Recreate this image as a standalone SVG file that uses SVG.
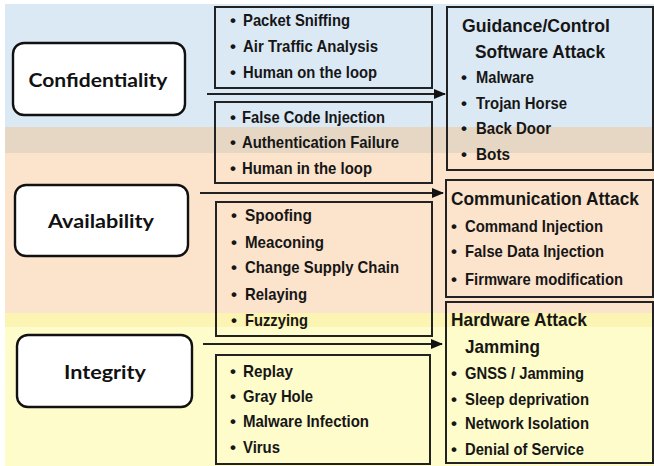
<svg xmlns="http://www.w3.org/2000/svg" width="654" height="466" viewBox="0 0 654 466">
<style>
.lbl{font-family:Lato,"Open Sans","Liberation Sans",sans-serif;font-weight:bold;font-size:19px;fill:#111;text-anchor:middle}
.it{font-family:"Liberation Sans Narrow","Liberation Sans",Arial,sans-serif;font-weight:bold;font-size:17px;fill:#161616}
.hd{font-family:"Liberation Sans Narrow","Liberation Sans",Arial,sans-serif;font-weight:bold;font-size:19px;fill:#161616}
.pill{fill:#fff;stroke:#111;stroke-width:2.4}
.box{fill:none;stroke:#222;stroke-width:2}
.con{stroke:#222;stroke-width:1.8;fill:none;marker-end:url(#ah)}
</style>
<defs>
<marker id="ah" markerWidth="12" markerHeight="10" refX="11" refY="5" orient="auto" markerUnits="userSpaceOnUse">
<path d="M0,0 L12,5 L0,10 Z" fill="#111"/>
</marker>
</defs>
<rect x="0" y="0" width="654" height="466" fill="#fff"/>
<rect x="5" y="4" width="649" height="123" fill="#dbe9f5"/>
<rect x="5" y="127" width="649" height="26" fill="#e6d6c4"/>
<rect x="5" y="153" width="649" height="160" fill="#fce3cc"/>
<rect x="5" y="313" width="649" height="14" fill="#fcf4b2"/>
<rect x="5" y="327" width="649" height="139" fill="#fefccb"/>

<g id="confidentiality">
<rect class="pill" x="13" y="43" width="172" height="72" rx="11"/>
<text class="lbl" x="98" y="87" textLength="139" lengthAdjust="spacingAndGlyphs">Confidentiality</text>
</g>
<g id="availability">
<rect class="pill" x="15" y="185" width="173" height="71" rx="11"/>
<text class="lbl" x="101" y="228" textLength="106" lengthAdjust="spacingAndGlyphs">Availability</text>
</g>
<g id="integrity">
<rect class="pill" x="17" y="335" width="175" height="72" rx="11"/>
<text class="lbl" x="105" y="379" textLength="82" lengthAdjust="spacingAndGlyphs">Integrity</text>
</g>

<g id="list-conf-1">
<rect class="box" x="215" y="7" width="217" height="81"/>
<text class="it"><tspan x="230" y="26">•</tspan><tspan x="243" y="26" textLength="107" lengthAdjust="spacingAndGlyphs">Packet Sniffing</tspan></text>
<text class="it"><tspan x="230" y="52">•</tspan><tspan x="243" y="52" textLength="135" lengthAdjust="spacingAndGlyphs">Air Traffic Analysis</tspan></text>
<text class="it"><tspan x="230" y="78">•</tspan><tspan x="243" y="78" textLength="134" lengthAdjust="spacingAndGlyphs">Human on the loop</tspan></text>
</g>
<g id="list-conf-2">
<rect class="box" x="215" y="102" width="217" height="81"/>
<text class="it"><tspan x="230" y="123">•</tspan><tspan x="242" y="123" textLength="143" lengthAdjust="spacingAndGlyphs">False Code Injection</tspan></text>
<text class="it"><tspan x="230" y="148">•</tspan><tspan x="242" y="148" textLength="157" lengthAdjust="spacingAndGlyphs">Authentication Failure</tspan></text>
<text class="it"><tspan x="230" y="174">•</tspan><tspan x="242" y="174" textLength="130" lengthAdjust="spacingAndGlyphs">Human in the loop</tspan></text>
</g>
<g id="list-avail">
<rect class="box" x="216" y="202" width="216" height="134"/>
<text class="it"><tspan x="231" y="221">•</tspan><tspan x="245" y="221" textLength="67" lengthAdjust="spacingAndGlyphs">Spoofing</tspan></text>
<text class="it"><tspan x="231" y="248">•</tspan><tspan x="245" y="248" textLength="79" lengthAdjust="spacingAndGlyphs">Meaconing</tspan></text>
<text class="it"><tspan x="231" y="273">•</tspan><tspan x="245" y="273" textLength="154" lengthAdjust="spacingAndGlyphs">Change Supply Chain</tspan></text>
<text class="it"><tspan x="231" y="300">•</tspan><tspan x="245" y="300" textLength="62" lengthAdjust="spacingAndGlyphs">Relaying</tspan></text>
<text class="it"><tspan x="231" y="326">•</tspan><tspan x="245" y="326" textLength="63" lengthAdjust="spacingAndGlyphs">Fuzzying</tspan></text>
</g>
<g id="list-integ">
<rect class="box" x="216" y="355" width="214" height="109"/>
<text class="it"><tspan x="230" y="377">•</tspan><tspan x="243" y="377" textLength="50" lengthAdjust="spacingAndGlyphs">Replay</tspan></text>
<text class="it"><tspan x="230" y="402">•</tspan><tspan x="243" y="402" textLength="70" lengthAdjust="spacingAndGlyphs">Gray Hole</tspan></text>
<text class="it"><tspan x="230" y="427">•</tspan><tspan x="243" y="427" textLength="126" lengthAdjust="spacingAndGlyphs">Malware Infection</tspan></text>
<text class="it"><tspan x="230" y="453">•</tspan><tspan x="243" y="453" textLength="37" lengthAdjust="spacingAndGlyphs">Virus</tspan></text>
</g>

<g id="guidance-attack">
<rect class="box" x="447" y="7" width="206" height="163"/>
<text class="hd" x="462" y="32" textLength="148" lengthAdjust="spacingAndGlyphs">Guidance/Control</text>
<text class="hd" x="475" y="58" textLength="130" lengthAdjust="spacingAndGlyphs">Software Attack</text>
<text class="it"><tspan x="461" y="83">•</tspan><tspan x="476" y="83" textLength="58" lengthAdjust="spacingAndGlyphs">Malware</tspan></text>
<text class="it"><tspan x="461" y="109">•</tspan><tspan x="476" y="109" textLength="91" lengthAdjust="spacingAndGlyphs">Trojan Horse</tspan></text>
<text class="it"><tspan x="461" y="134">•</tspan><tspan x="476" y="134" textLength="75" lengthAdjust="spacingAndGlyphs">Back Door</tspan></text>
<text class="it"><tspan x="461" y="160">•</tspan><tspan x="476" y="160" textLength="34" lengthAdjust="spacingAndGlyphs">Bots</tspan></text>
</g>
<g id="communication-attack">
<rect class="box" x="446" y="180" width="207" height="117"/>
<text class="hd" x="451" y="205" style="font-size:18px" textLength="188" lengthAdjust="spacingAndGlyphs">Communication Attack</text>
<text class="it"><tspan x="451" y="232">•</tspan><tspan x="465" y="232" textLength="138" lengthAdjust="spacingAndGlyphs">Command Injection</tspan></text>
<text class="it"><tspan x="451" y="257">•</tspan><tspan x="465" y="257" textLength="139" lengthAdjust="spacingAndGlyphs">False Data Injection</tspan></text>
<text class="it"><tspan x="451" y="285">•</tspan><tspan x="465" y="285" textLength="158" lengthAdjust="spacingAndGlyphs">Firmware modification</tspan></text>
</g>
<g id="hardware-attack">
<rect class="box" x="446" y="302" width="207" height="161"/>
<text class="hd" x="451" y="326" textLength="136" lengthAdjust="spacingAndGlyphs">Hardware Attack</text>
<text class="hd" x="465" y="353" textLength="75" lengthAdjust="spacingAndGlyphs">Jamming</text>
<text class="it"><tspan x="451" y="379">•</tspan><tspan x="465" y="379" textLength="119" lengthAdjust="spacingAndGlyphs">GNSS / Jamming</tspan></text>
<text class="it"><tspan x="451" y="405">•</tspan><tspan x="465" y="405" textLength="124" lengthAdjust="spacingAndGlyphs">Sleep deprivation</tspan></text>
<text class="it"><tspan x="451" y="429">•</tspan><tspan x="465" y="429" textLength="124" lengthAdjust="spacingAndGlyphs">Network Isolation</tspan></text>
<text class="it"><tspan x="451" y="455">•</tspan><tspan x="465" y="455" textLength="119" lengthAdjust="spacingAndGlyphs">Denial of Service</tspan></text>
</g>

<g id="connectors">
<line class="con" x1="207" y1="94" x2="445" y2="94"/>
<line class="con" x1="200" y1="193" x2="443" y2="193"/>
<line class="con" x1="203" y1="344" x2="442" y2="344"/>
</g>
</svg>
